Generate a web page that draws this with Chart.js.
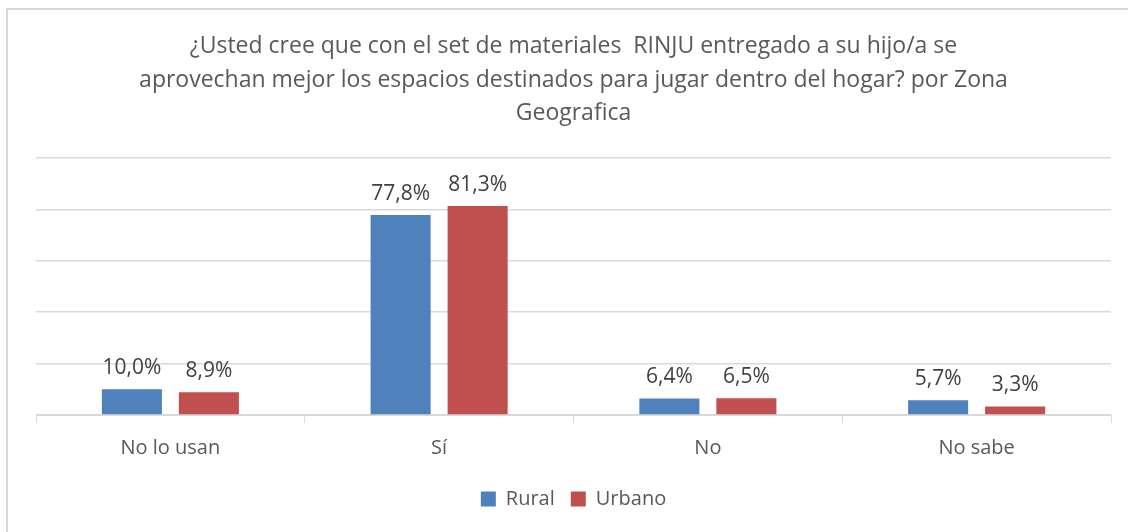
<!DOCTYPE html>
<html>
<head>
<meta charset="utf-8">
<script src="https://cdn.jsdelivr.net/npm/chart.js@4/dist/chart.umd.min.js"></script>
<style>
  html, body { margin: 0; padding: 0; background: #fff; overflow: hidden; }
  #frame { position: absolute; left: 6px; top: 8px; width: 1140px; height: 540px; border: 2px solid #d9d9d9; }
  #wrap { position: absolute; left: 0; top: 0; width: 1128px; height: 532px; }
</style>
</head>
<body>
<div id="frame"></div>
<div id="wrap"><canvas id="chart"></canvas></div>
<script>
// Chart data
const titleLines = [
  '¿Usted cree que con el set de materiales  RINJU entregado a su hijo/a se',
  'aprovechan mejor los espacios destinados para jugar dentro del hogar? por Zona',
  'Geografica'
];
const categories = ['No lo usan', 'Sí', 'No', 'No sabe'];
const rural = [10.0, 77.8, 6.4, 5.7];
const urbano = [8.9, 81.3, 6.5, 3.3];

const FONT = "'Open Sans', 'Liberation Sans', sans-serif";

// Draw the value labels above each bar
const valueLabels = {
  id: 'valueLabels',
  afterDatasetsDraw(chart) {
    const ctx = chart.ctx;
    ctx.save();
    ctx.font = '21px ' + FONT;
    ctx.fillStyle = '#404040';
    ctx.textAlign = 'center';
    ctx.textBaseline = 'bottom';
    chart.data.datasets.forEach((ds, i) => {
      chart.getDatasetMeta(i).data.forEach((bar, j) => {
        const txt = ds.data[j].toFixed(1).replace('.', ',') + '%';
        ctx.fillText(txt, bar.x, bar.y - 11);
      });
    });
    ctx.restore();
  }
};

new Chart(document.getElementById('chart'), {
  type: 'bar',
  data: {
    labels: categories,
    datasets: [
      { label: 'Rural', data: rural, backgroundColor: '#4f81bd' },
      { label: 'Urbano', data: urbano, backgroundColor: '#c0504d' }
    ]
  },
  options: {
    responsive: true,
    maintainAspectRatio: false,
    animation: false,
    categoryPercentage: 0.573,
    barPercentage: 0.78,
    layout: { padding: { left: 36, right: 17, top: 30, bottom: 13 } },
    plugins: {
      title: {
        display: true,
        text: titleLines,
        color: '#595959',
        font: { family: FONT, size: 23, weight: 'normal', lineHeight: 1.45 },
        padding: { top: 0, bottom: 28 }
      },
      legend: {
        position: 'bottom',
        labels: {
          color: '#595959',
          font: { family: FONT, size: 20 },
          boxWidth: 15,
          boxHeight: 15,
          padding: 16
        }
      },
      tooltip: { enabled: false }
    },
    scales: {
      x: {
        grid: { display: true, drawOnChartArea: false, drawTicks: true, tickLength: 8, color: '#d9d9d9', offset: true },
        border: { display: true, color: '#d9d9d9' },
        ticks: { color: '#595959', font: { family: FONT, size: 20 }, padding: 13 }
      },
      y: {
        min: 0,
        max: 100,
        ticks: { display: false, stepSize: 20 },
        grid: { color: '#d9d9d9', drawTicks: false, lineWidth: 1.5 },
        border: { display: false }
      }
    }
  },
  plugins: [valueLabels]
});
</script>
</body>
</html>
